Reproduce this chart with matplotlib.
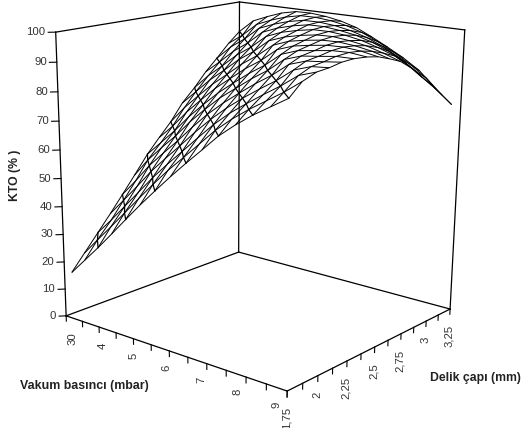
import numpy as np
import matplotlib
matplotlib.use('Agg')
import matplotlib.pyplot as plt

plt.rcParams['font.family'] = ['Liberation Sans', 'DejaVu Sans']

W, H = 529, 428

# eksen degerleri
vakum = [3.1, 3.51, 3.92, 4.33, 4.74, 5.15, 5.56, 5.98, 6.39, 6.8, 7.21, 7.62, 8.03, 8.44, 8.85]
delik = [1.78, 1.88, 1.99, 2.09, 2.19, 2.29, 2.4, 2.5, 2.6, 2.7, 2.81, 2.91, 3.01, 3.12, 3.22]
z_ticks = [0, 10, 20, 30, 40, 50, 60, 70, 80, 90, 100]
vakum_ticks = [3, 3.5, 4, 4.5, 5, 5.5, 6, 6.5, 7, 7.5, 8, 8.5, 9]
vakum_labels = ['30', '', '4', '', '5', '', '6', '', '7', '', '8', '', '9']
delik_ticks = [1.75, 1.875, 2, 2.125, 2.25, 2.375, 2.5, 2.625, 2.75, 2.875, 3, 3.125, 3.25]
delik_labels = ['1,75', '', '2', '', '2,25', '', '2,5', '', '2,75', '', '3', '', '3,25']

# KTO (%)  satir: vakum, sutun: delik
kto = np.array([
    [16, 21.5, 27.5, 33, 38.7, 44.5, 51, 56, 60.8, 66.7, 71.5, 76.5, 80.7, 85.5, 89.2],
    [22, 27.8, 33.4, 39.2, 45, 51.3, 56.4, 61.3, 67, 71.9, 76.8, 81, 85.7, 89.3, 93.9],
    [28, 33.9, 39.7, 45.5, 51.7, 56.9, 61.8, 67.4, 72.3, 77.1, 81.3, 85.8, 89.5, 94, 96.2],
    [34.3, 40.2, 46, 52, 57.3, 62.2, 67.8, 72.7, 77.4, 81.5, 86, 89.6, 94.1, 96.3, 98.2],
    [40.7, 46.5, 52.3, 57.7, 62.7, 68.2, 73.1, 77.8, 81.8, 86.1, 89.7, 94.2, 96.3, 98.1, 99.4],
    [47, 52.7, 58.1, 63.2, 68.5, 73.5, 78.1, 82.1, 86.3, 89.8, 94.2, 96.4, 98, 99.3, 99.5],
    [53, 58.6, 63.6, 68.9, 73.9, 78.4, 82.4, 86.4, 90, 94.3, 96.4, 97.9, 99.1, 99.4, 99],
    [59, 64.1, 69.3, 74.3, 78.7, 82.6, 86.6, 90.1, 94.4, 96.4, 97.8, 99, 99.2, 98.9, 98],
    [64.6, 69.6, 74.7, 79, 82.9, 86.7, 90.2, 94.5, 96.5, 97.7, 98.8, 99.1, 98.7, 97.9, 96.4],
    [70, 75.1, 79.4, 83.2, 86.9, 90.3, 94.6, 96.5, 97.6, 98.6, 98.9, 98.5, 97.7, 96.2, 93.8],
    [75.5, 79.7, 83.4, 87, 90.5, 94.7, 96.6, 97.5, 98.4, 98.8, 98.4, 97.6, 96.1, 93.8, 91],
    [80, 83.7, 87.2, 90.6, 94.8, 96.6, 97.4, 98.3, 98.6, 98.2, 97.4, 96, 93.8, 90.9, 88],
    [84, 87.3, 90.8, 94.8, 96.7, 97.3, 98.2, 98.5, 98.1, 97.3, 95.8, 93.8, 90.8, 87.6, 84.4],
    [87.5, 90.9, 94.9, 96.7, 97.3, 98.1, 98.4, 98, 97.1, 95.7, 93.8, 90.7, 87.1, 83.7, 79],
    [91, 95, 96.8, 97.2, 98, 98.2, 97.8, 97, 95.5, 93.8, 90.6, 86.7, 83, 78.6, 74.4],
])

# kutunun koselerinin referans pikselleri -> kamera matrisi
box_3d = np.array([
    [3, 1.75, 0], [9, 1.75, 0], [9, 3.25, 0], [3, 3.25, 0],
    [3, 1.75, 100], [3, 3.25, 100], [9, 3.25, 100],
], dtype=float)
box_px = np.array([
    [66, 316], [287, 391], [450, 309], [239, 252],
    [56, 32], [239, 2], [465, 30],
], dtype=float)

rows = []
for (x, y, z), (u, v) in zip(box_3d, box_px):
    rows.append([x, y, z, 1, 0, 0, 0, 0, -u*x, -u*y, -u*z, -u])
    rows.append([0, 0, 0, 0, x, y, z, 1, -v*x, -v*y, -v*z, -v])
cam = np.linalg.svd(np.array(rows))[2][-1].reshape(3, 4)
center = np.linalg.svd(cam)[2][-1]


def to_px(x, y, z):
    p = cam @ np.array([x, y, z, 1.0])
    return p[0] / p[2], p[1] / p[2]


fig = plt.figure(figsize=(W / 100, H / 100), dpi=100)
ax = fig.add_axes([0, -0.2, 1, 1.4], projection='3d')
ax.set_axis_off()


def get_proj():
    flip = np.array([[1, 0, 0], [0, -1, H], [0, 0, 1.0]])
    m = ax.transData.inverted().get_matrix() @ flip @ cam
    # derinlik onemsiz, sadece M terslenebilir kalsin (Line3D z>0 olani atiyor)
    depth = -1e-3 * m[2] + 1e-8 * np.abs(m[2]).max() * center
    return np.vstack([m[0], m[1], depth, m[2]])


ax.get_proj = get_proj

X, Y = np.meshgrid(vakum, delik, indexing='ij')
ax.plot_wireframe(X, Y, kto, rstride=1, cstride=1, color='black', lw=0.7)

# koyu ters kosegenler
for k in range(2, 15, 2):
    idx = np.arange(k + 1)
    ax.plot(X[idx, k - idx], Y[idx, k - idx], kto[idx, k - idx], color='black', lw=0.9)

# kutu
x0, x1, y0, y1 = 3, 9, 1.75, 3.25
edges = [
    ((x0, y0, 0), (x1, y0, 0)), ((x1, y0, 0), (x1, y1, 0)),
    ((x1, y1, 0), (x0, y1, 0)), ((x0, y1, 0), (x0, y0, 0)),
    ((x0, y0, 0), (x0, y0, 100)), ((x0, y1, 0), (x0, y1, 100)),
    ((x1, y1, 0), (x1, y1, 100)), ((x0, y0, 100), (x0, y1, 100)),
    ((x0, y1, 100), (x1, y1, 100)),
]
for a, b in edges:
    ax.plot(*zip(a, b), color='black', lw=0.9)

tick_col = '#333333'
fs = 8.2

for z in z_ticks:
    ax.plot([x0, x0 - 0.099], [y0, y0 - 0.029], [z, z], color='black', lw=0.8)
    px, py = to_px(x0, y0, z)
    fig.text((px - 10) / W, 1 - py / H, str(z), ha='right', va='center',
             fontsize=fs, color=tick_col)

for v, lab in zip(vakum_ticks, vakum_labels):
    ax.plot([v, v], [y0, y0], [0, -2], color='black', lw=0.8)
    if lab:
        f = (v - 3) / 6
        px, py = to_px(v, y0, 0)
        fig.text((px + 6 - 17 * f) / W, 1 - (py + 16 - 5 * f) / H, lab, rotation=90,
                 ha='center', va='top', fontsize=fs, color=tick_col)

for d, lab in zip(delik_ticks, delik_labels):
    ax.plot([x1, x1], [d, d], [0, -2], color='black', lw=0.8)
    if lab:
        px, py = to_px(x1, d, 0)
        fig.text((px - 1) / W, 1 - (py + 16) / H, lab, rotation=90,
                 ha='center', va='top', fontsize=fs, color=tick_col)

fig.text(15 / W, 1 - 175 / H, 'KTO (% )', rotation=90, ha='center', va='center',
         fontsize=8.8, fontweight='bold', color='#222222')
fig.text(84.5 / W, 1 - 386 / H, 'Vakum basıncı (mbar)', ha='center', va='center',
         fontsize=8.9, fontweight='bold', color='#222222')
fig.text(475 / W, 1 - 378 / H, 'Delik çapı (mm)', ha='center', va='center',
         fontsize=8.8, fontweight='bold', color='#222222')

fig.savefig('out.png', dpi=100)
